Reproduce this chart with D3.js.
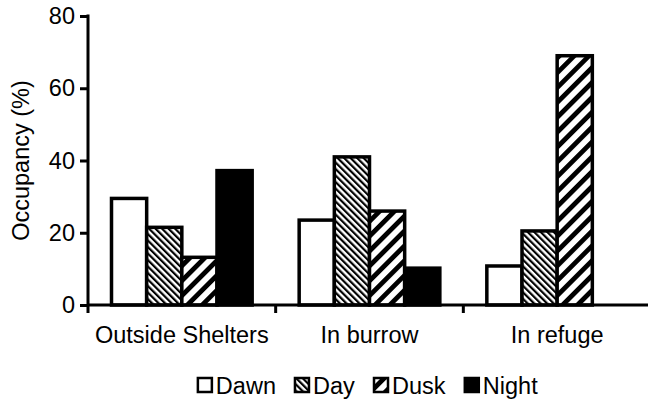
<!DOCTYPE html>
<html>
<head>
<meta charset="utf-8">
<script src="https://cdn.jsdelivr.net/npm/d3@7"></script>
<style>
  html, body { margin: 0; padding: 0; background: #fff; }
  svg { display: block; font-family: "Liberation Sans", Arial, sans-serif; }
</style>
</head>
<body>
<svg id="chart" width="648" height="413"></svg>
<script>
// Occupancy by location and time of day
const categories = ["Outside Shelters", "In burrow", "In refuge"];
const series = ["Dawn", "Day", "Dusk", "Night"];
const dawnValues = [29.5, 23.5, 10.8];
const dayValues = [21.5, 41, 20.5];
const duskValues = [13.2, 26, 69];
const nightValues = [37.2, 10.2, 0];
const yTicks = [0, 20, 40, 60, 80];

const valuesBySeries = { Dawn: dawnValues, Day: dayValues, Dusk: duskValues, Night: nightValues };

const svg = d3.select("#chart");
const FONT = "'Liberation Sans', Arial, sans-serif";
const FS = "23.5px";

// Hatch fills
const defs = svg.append("defs");
function hatch(id, period, lineW, angle) {
  const p = defs.append("pattern")
    .attr("id", id)
    .attr("patternUnits", "userSpaceOnUse")
    .attr("width", period)
    .attr("height", period)
    .attr("patternTransform", `rotate(${angle})`);
  p.append("rect").attr("width", period).attr("height", period).attr("fill", "#fff");
  p.append("rect").attr("x", 0).attr("y", 0).attr("width", lineW).attr("height", period).attr("fill", "#000");
}
hatch("hatchDay", 4.6, 2.2, -45);
hatch("hatchDusk", 10.5, 4.8, 45);

const fills = { Dawn: "#fff", Day: "url(#hatchDay)", Dusk: "url(#hatchDusk)", Night: "#000" };

const x0 = d3.scaleBand().domain(categories).range([88, 651]);
const x1 = d3.scaleBand().domain(series).range([23.5, x0.bandwidth() - 23.5]);
const y = d3.scaleLinear().domain([0, 80]).range([305, 16]);

// Bars
const groups = svg.append("g").selectAll("g")
  .data(categories)
  .join("g")
  .attr("transform", d => `translate(${x0(d)},0)`);

groups.selectAll("rect")
  .data((c, i) => series.map(s => ({ s, v: valuesBySeries[s][i] })).filter(d => d.v > 0))
  .join("rect")
  .attr("x", d => x1(d.s))
  .attr("y", d => y(d.v))
  .attr("width", x1.bandwidth())
  .attr("height", d => y(0) - y(d.v))
  .attr("fill", d => fills[d.s])
  .attr("stroke", "#000")
  .attr("stroke-width", 3.5);

// Y axis
const yAxis = d3.axisLeft(y).tickValues(yTicks).tickSize(8).tickPadding(5);
const gy = svg.append("g").attr("transform", "translate(88,0)").call(yAxis);
gy.select(".domain").remove();
gy.append("line").attr("x1", 0).attr("x2", 0).attr("y1", y(80) - 1.5).attr("y2", 313)
  .attr("stroke", "#000").attr("stroke-width", 3);
gy.selectAll(".tick line").attr("stroke", "#000").attr("stroke-width", 3);
gy.selectAll(".tick text").attr("fill", "#000").style("font-size", FS).style("font-family", FONT);

// X axis
const xAxis = d3.axisBottom(x0).tickSize(0).tickPadding(21);
const gx = svg.append("g").attr("transform", "translate(0,305)").call(xAxis);
gx.select(".domain").remove();
gx.append("line").attr("x1", 88).attr("x2", 651).attr("y1", 0).attr("y2", 0)
  .attr("stroke", "#000").attr("stroke-width", 3);
gx.selectAll(".tick text").attr("fill", "#000").style("font-size", FS).style("font-family", FONT);
// category boundary ticks
gx.append("g").selectAll("line")
  .data(categories.slice(1))
  .join("line")
  .attr("x1", d => x0(d)).attr("x2", d => x0(d))
  .attr("y1", 0).attr("y2", 8)
  .attr("stroke", "#000").attr("stroke-width", 3);

// Y title
svg.append("text")
  .attr("transform", `translate(29,${(y(0) + y(80)) / 2}) rotate(-90)`)
  .attr("text-anchor", "middle")
  .style("font-size", FS)
  .text("Occupancy (%)");

// Legend
const legend = svg.append("g").attr("transform", "translate(0,385)");
const items = legend.selectAll("g").data(series).join("g");
items.append("rect")
  .attr("x", 0).attr("y", -7).attr("width", 14).attr("height", 14)
  .attr("fill", d => fills[d]).attr("stroke", "#000").attr("stroke-width", 2.5);
items.append("text")
  .attr("x", 18).attr("y", 9)
  .style("font-size", FS)
  .text(d => d);
let widths = [];
items.each(function () { widths.push(this.getBBox().width); });
const gap = 19;
const total = d3.sum(widths) + gap * (widths.length - 1);
let cx = 368 - total / 2;
items.attr("transform", (d, i) => {
  const t = `translate(${cx},0)`;
  cx += widths[i] + gap;
  return t;
});
</script>
</body>
</html>
